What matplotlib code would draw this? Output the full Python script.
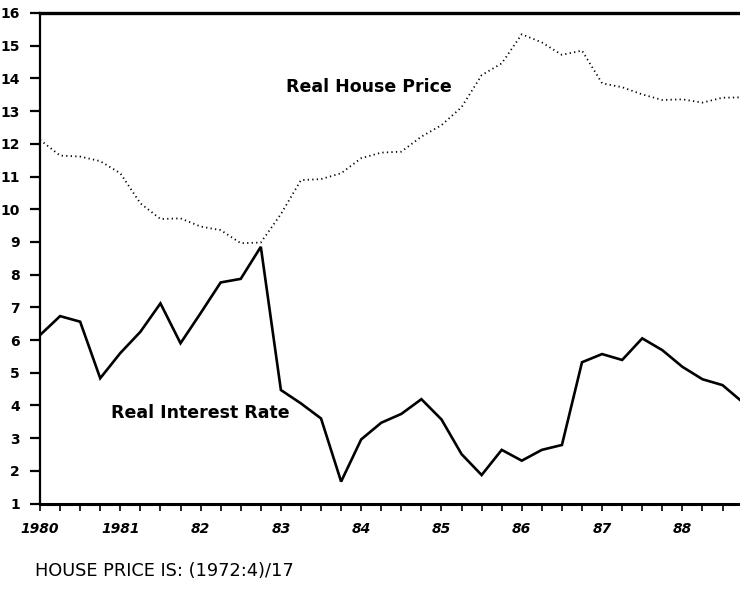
import matplotlib
matplotlib.use("Agg")
import matplotlib.pyplot as plt
import numpy as np

# Quarterly data, 1980Q1 .. 1988Q4
quarters = [1980 + 0.25 * i for i in range(36)]

house_price = [12.12, 11.64, 11.61, 11.47, 11.10, 10.18, 9.70, 9.72, 9.47, 9.36,
               8.96, 8.98, 9.85, 10.89, 10.92, 11.10, 11.56, 11.73, 11.76, 12.22,
               12.57, 13.12, 14.10, 14.46, 15.35, 15.10, 14.72, 14.85, 13.85, 13.73,
               13.51, 13.34, 13.36, 13.26, 13.41, 13.42]

interest_rate = [6.15, 6.73, 6.56, 4.83, 5.60, 6.25, 7.12, 5.90, 6.82, 7.76,
                 7.87, 8.85, 4.47, 4.06, 3.60, 1.67, 2.96, 3.47, 3.74, 4.19,
                 3.57, 2.51, 1.87, 2.64, 2.31, 2.64, 2.79, 5.32, 5.57, 5.39,
                 6.05, 5.69, 5.18, 4.80, 4.62, 4.10]

year_ticks = [1980, 1981, 1982, 1983, 1984, 1985, 1986, 1987, 1988]
year_labels = ["1980", "1981", "82", "83", "84", "85", "86", "87", "88"]
y_ticks = list(range(1, 17))

fig = plt.figure(figsize=(7.4, 5.96), dpi=100)
W, H = 740, 596
x0, x1 = 40, 742.6
y_top, y_bot = 13, 503.5
ax = fig.add_axes([x0 / W, (H - y_bot) / H, (x1 - x0) / W, (y_bot - y_top) / H])

ax.plot(quarters, interest_rate, color="black", lw=1.9, solid_joinstyle="miter")
ax.plot(quarters, house_price, color="black", lw=1.3, linestyle=(0, (0.7, 1.8)))

ax.set_xlim(1980, 1988.75)
ax.set_ylim(1, 16)

ax.set_yticks(y_ticks)
ax.set_yticklabels([str(v) for v in y_ticks], fontweight="bold", fontsize=10)
ax.set_xticks(year_ticks)
ax.set_xticklabels(year_labels, fontweight="bold", fontsize=10, style="italic")
ax.set_xticks([1980 + 0.25 * i for i in range(36)], minor=True)

ax.tick_params(axis="y", direction="out", length=7, width=1.6, pad=7.5)
ax.tick_params(axis="x", which="both", direction="out", length=5, width=1.2, pad=8)

ax.spines["left"].set_linewidth(1.6)
ax.spines["bottom"].set_linewidth(2.2)
ax.spines["top"].set_linewidth(2.4)
ax.spines["right"].set_visible(False)

ax.text(1984.1, 13.74, "Real House Price", fontsize=12.5, fontweight="bold",
        ha="center", va="center")
ax.text(1982.0, 3.77, "Real Interest Rate", fontsize=12.5, fontweight="bold",
        ha="center", va="center")

fig.text(35 / W, (H - 571) / H, "HOUSE PRICE IS: (1972:4)/17", fontsize=12.8,
         ha="left", va="center", fontfamily="DejaVu Sans Condensed")

fig.savefig("out.png", dpi=100)
